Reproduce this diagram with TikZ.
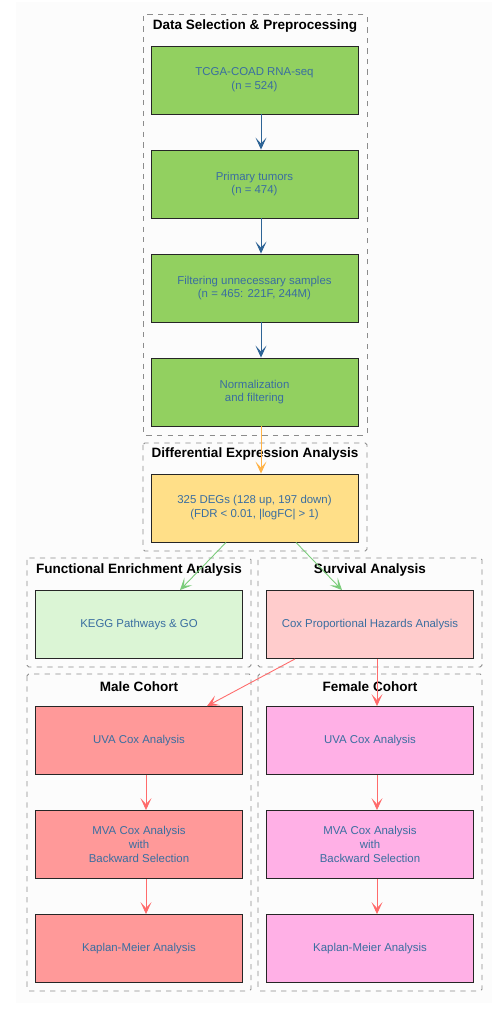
\documentclass[tikz,border=0pt]{standalone}
\usepackage{fontspec}
\setmainfont{Liberation Sans}
\usetikzlibrary{arrows.meta}

\definecolor{prepgreen}{HTML}{92D060}
\definecolor{degyellow}{HTML}{FFDF88}
\definecolor{keggpale}{HTML}{DBF5D5}
\definecolor{coxpink}{HTML}{FFCCCC}
\definecolor{malered}{HTML}{FF9999}
\definecolor{femalepink}{HTML}{FFB0E6}
\definecolor{labelblue}{HTML}{3A6EA0}
\definecolor{flowblue}{HTML}{2E6496}
\definecolor{floworange}{HTML}{FFB347}
\definecolor{flowgreen}{HTML}{7ACC7A}
\definecolor{flowred}{HTML}{FF6B6B}

\begin{document}
\begin{tikzpicture}[x=0.02cm,y=-0.02cm,
    stepbox/.style={draw=black!85,line width=0.5pt,minimum width=4.14cm,minimum height=1.36cm,
        align=center,text=labelblue,font=\fontsize{6.5}{7.9}\selectfont,inner sep=0pt},
    cluster/.style={draw=black!45,dashed,line width=0.5pt,rounded corners=1pt},
    clustertitle/.style={font=\fontsize{7.7}{9}\selectfont\bfseries,inner sep=0pt},
    flow/.style={line width=0.5pt,-{Stealth[length=2.4mm,width=2.2mm,inset=1.2mm]}}]

    % page and background
    \useasboundingbox (0,0) rectangle (503,1012);
    \fill[black!1] (16,2) rectangle (492,1003);

    % clusters
    \draw[cluster] (143,14) rectangle (367,435);
    \node[clustertitle] (tprep) at (255,26) {Data Selection \& Preprocessing};
    \draw[cluster] (143,443) rectangle (367,551);
    \node[clustertitle] (tdeg) at (255,454) {Differential Expression Analysis};
    \draw[cluster] (27,558) rectangle (251,667);
    \node[clustertitle] (tfunc) at (139,570) {Functional Enrichment Analysis};
    \draw[cluster] (258,558) rectangle (482,667);
    \node[clustertitle] (tsurv) at (370,570) {Survival Analysis};
    \draw[cluster] (27,674) rectangle (251,991);
    \node[clustertitle] (tmale) at (139,687) {Male Cohort};
    \draw[cluster] (258,674) rectangle (482,991);
    \node[clustertitle] (tfemale) at (370,687) {Female Cohort};

    % preprocessing
    \node[stepbox,fill=prepgreen] (tcga) at (254.5,80) {TCGA-COAD RNA-seq\\(n = 524)};
    \node[stepbox,fill=prepgreen] (primary) at (254.5,184) {Primary tumors\\(n = 474)};
    \node[stepbox,fill=prepgreen] (filter) at (254.5,288) {Filtering unnecessary samples\\(n = 465: 221F, 244M)};
    \node[stepbox,fill=prepgreen] (norm) at (254.5,392) {Normalization\\and filtering};

    % DEGs
    \node[stepbox,fill=degyellow] (degs) at (254.5,508) {325 DEGs (128 up, 197 down)\\(FDR < 0.01, |logFC| > 1)};

    % enrichment and survival
    \node[stepbox,fill=keggpale] (kegg) at (139,624.5) {KEGG Pathways \& GO};
    \node[stepbox,fill=coxpink] (cox) at (370,624.5) {Cox Proportional Hazards Analysis};

    % cohorts
    \node[stepbox,fill=malered] (muva) at (139,740.5) {UVA Cox Analysis};
    \node[stepbox,fill=malered] (mmva) at (139,844.5) {MVA Cox Analysis\\with\\Backward Selection};
    \node[stepbox,fill=malered] (mkm) at (139,948.5) {Kaplan-Meier Analysis};
    \node[stepbox,fill=femalepink] (fuva) at (370,740.5) {UVA Cox Analysis};
    \node[stepbox,fill=femalepink] (fmva) at (370,844.5) {MVA Cox Analysis\\with\\Backward Selection};
    \node[stepbox,fill=femalepink] (fkm) at (370,948.5) {Kaplan-Meier Analysis};

    % connectors
    \draw[flow,flowblue] ([xshift=0.13cm]tcga.south) -- ([xshift=0.13cm]primary.north);
    \draw[flow,flowblue] ([xshift=0.13cm]primary.south) -- ([xshift=0.13cm]filter.north);
    \draw[flow,flowblue] ([xshift=0.13cm]filter.south) -- ([xshift=0.13cm]norm.north);
    \draw[flow,floworange] ([xshift=0.13cm]norm.south) -- ([xshift=0.13cm]degs.north);
    \draw[flow,flowgreen] ([xshift=-0.57cm]degs.south) -- ([xshift=0.82cm]kegg.north);
    \draw[flow,flowgreen] ([xshift=0.83cm]degs.south) -- ([xshift=-0.56cm]cox.north);
    \draw[flow,flowred] ([xshift=-1.5cm]cox.south) -- ([xshift=1.36cm]muva.north);
    \draw[flow,flowred] ([xshift=0.14cm]cox.south) -- ([xshift=0.14cm]fuva.north);
    \draw[flow,flowred] ([xshift=0.14cm]muva.south) -- ([xshift=0.14cm]mmva.north);
    \draw[flow,flowred] ([xshift=0.14cm]mmva.south) -- ([xshift=0.14cm]mkm.north);
    \draw[flow,flowred] ([xshift=0.14cm]fuva.south) -- ([xshift=0.14cm]fmva.north);
    \draw[flow,flowred] ([xshift=0.14cm]fmva.south) -- ([xshift=0.14cm]fkm.north);
\end{tikzpicture}
\end{document}
